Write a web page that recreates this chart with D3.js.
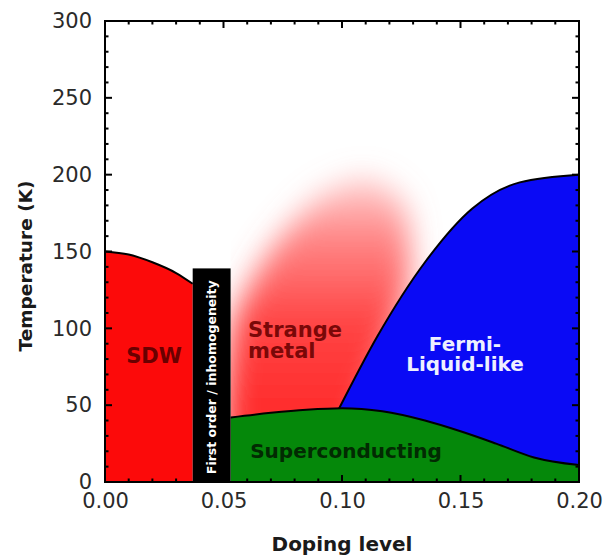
<!DOCTYPE html>
<html>
<head>
<meta charset="utf-8">
<script src="https://cdn.jsdelivr.net/npm/d3@7"></script>
<style>
  html, body { margin: 0; padding: 0; background: #fff; }
  svg { display: block; }
</style>
</head>
<body>
<svg id="chart" width="607" height="556"></svg>
<script>
// Phase boundaries (doping level vs temperature in K)
const sdwDoping = [0.000, 0.010, 0.020, 0.030, 0.037];
const sdwTemp   = [150, 148, 143, 136, 129];

const scDoping = [0.053, 0.070, 0.085, 0.100, 0.117, 0.135, 0.150, 0.165, 0.181, 0.200];
const scTemp   = [42, 45, 47, 48, 46, 40, 33, 25, 16, 11];

const flDoping = [0.0985, 0.115, 0.135, 0.155, 0.175, 0.200];
const flTemp   = [47, 95, 143, 178, 195, 200];

// Strange-metal haze outline
const smDoping = [0.053, 0.053, 0.060, 0.072, 0.090, 0.110, 0.126, 0.128, 0.113, 0.100];
const smTemp   = [20, 95, 125, 155, 185, 198, 180, 130, 60, 20];

// First-order / inhomogeneity strip
const stripDoping = [0.037, 0.053];
const stripTop = 139;

const xTicks = [0.00, 0.05, 0.10, 0.15, 0.20];
const yTicks = [0, 50, 100, 150, 200, 250, 300];

const svg = d3.select("#chart");
const pLeft = 105, pRight = 579, pTop = 21, pBottom = 482;

const x = d3.scaleLinear().domain([0, 0.2]).range([pLeft, pRight]);
const y = d3.scaleLinear().domain([0, 300]).range([pBottom, pTop]);

const pts = (xs, ys) => xs.map((d, i) => [d, ys[i]]);
const smooth = d3.curveMonotoneX;
const line = d3.line().x(d => x(d[0])).y(d => y(d[1])).curve(smooth);
const area = d3.area().x(d => x(d[0])).y0(y(0)).y1(d => y(d[1])).curve(smooth);

const defs = svg.append("defs");
defs.append("clipPath").attr("id", "plotClip")
  .append("rect").attr("x", x(stripDoping[1])).attr("y", pTop)
  .attr("width", pRight - x(stripDoping[1])).attr("height", pBottom - pTop);

const grad = defs.append("linearGradient").attr("id", "smGrad")
  .attr("gradientUnits", "userSpaceOnUse")
  .attr("x1", 0).attr("x2", 0).attr("y1", y(40)).attr("y2", y(200));
grad.append("stop").attr("offset", 0).attr("stop-color", "#ff2a2a");
grad.append("stop").attr("offset", 0.4).attr("stop-color", "#ff4444");
grad.append("stop").attr("offset", 0.75).attr("stop-color", "#ff6a6a").attr("stop-opacity", 0.8);
grad.append("stop").attr("offset", 1).attr("stop-color", "#ff9a9a").attr("stop-opacity", 0.45);

defs.append("filter").attr("id", "haze")
  .attr("x", "-50%").attr("y", "-50%").attr("width", "200%").attr("height", "200%")
  .append("feGaussianBlur").attr("stdDeviation", 15);

// Strange metal haze
svg.append("g").attr("clip-path", "url(#plotClip)")
  .append("path")
  .attr("d", d3.line().x(d => x(d[0])).y(d => y(d[1])).curve(d3.curveCardinalClosed.tension(0.3))(pts(smDoping, smTemp)))
  .attr("fill", "url(#smGrad)")
  .attr("filter", "url(#haze)");

// Fermi-liquid-like region (lower part is covered by the superconducting dome)
const flPts = pts(flDoping, flTemp);
svg.append("path").attr("d", area(flPts)).attr("fill", "#0a0af5");
svg.append("path").attr("d", line(flPts)).attr("fill", "none").attr("stroke", "#000").attr("stroke-width", 2);

// Superconducting dome
const scPts = pts(scDoping, scTemp);
svg.append("path").attr("d", area(scPts)).attr("fill", "#05880a");
svg.append("path").attr("d", line(scPts)).attr("fill", "none").attr("stroke", "#000").attr("stroke-width", 2);

// SDW region
const sdwPts = pts(sdwDoping, sdwTemp);
svg.append("path").attr("d", area(sdwPts)).attr("fill", "#fc0a0a");
svg.append("path").attr("d", line(sdwPts)).attr("fill", "none").attr("stroke", "#000").attr("stroke-width", 2);

// First-order strip
svg.append("rect")
  .attr("x", x(stripDoping[0])).attr("y", y(stripTop))
  .attr("width", x(stripDoping[1]) - x(stripDoping[0]))
  .attr("height", y(0) - y(stripTop))
  .attr("fill", "#000");
const sx = (x(stripDoping[0]) + x(stripDoping[1])) / 2;
const sy = (y(0) + y(stripTop)) / 2;
svg.append("text")
  .attr("transform", `translate(${sx + 4.5},${sy + 2}) rotate(-90)`)
  .attr("text-anchor", "middle")
  .attr("font-family", "DejaVu Sans")
  .attr("font-weight", "bold")
  .attr("font-size", 12.5)
  .attr("fill", "#fff")
  .text("First order / inhomogeneity");

// Region labels
const label = (tx, ty, lines, size, color, anchor, gap) => {
  const t = svg.append("text")
    .attr("font-family", "DejaVu Sans").attr("font-weight", "bold")
    .attr("font-size", size).attr("fill", color).attr("text-anchor", anchor);
  lines.forEach((s, i) => t.append("tspan").attr("x", tx).attr("y", ty + i * gap).text(s));
};
label(154, 363, ["SDW"], 21, "#6a0000", "middle", 0);
label(248, 337, ["Strange", "metal"], 21, "#7a0808", "start", 21);
label(465, 351, ["Fermi-", "Liquid-like"], 20, "#eef0ff", "middle", 20);
label(346, 458, ["Superconducting"], 20, "#022a02", "middle", 0);

// Frame with inward ticks on all sides
const frame = svg.append("g").attr("stroke", "#000").attr("fill", "none");
frame.append("rect").attr("x", pLeft).attr("y", pTop)
  .attr("width", pRight - pLeft).attr("height", pBottom - pTop).attr("stroke-width", 2);

const xMinor = d3.range(0, 0.2001, 0.01);
const yMinor = d3.range(0, 300.1, 10);
xMinor.forEach(v => {
  const major = Math.abs(v / 0.05 - Math.round(v / 0.05)) < 1e-6;
  const len = major ? 7 : 3.5;
  frame.append("line").attr("x1", x(v)).attr("x2", x(v)).attr("y1", pBottom).attr("y2", pBottom - len).attr("stroke-width", 2);
  frame.append("line").attr("x1", x(v)).attr("x2", x(v)).attr("y1", pTop).attr("y2", pTop + len).attr("stroke-width", 2);
});
yMinor.forEach(v => {
  const major = Math.round(v) % 50 === 0;
  const len = major ? 7 : 3.5;
  frame.append("line").attr("y1", y(v)).attr("y2", y(v)).attr("x1", pLeft).attr("x2", pLeft + len).attr("stroke-width", 2);
  frame.append("line").attr("y1", y(v)).attr("y2", y(v)).attr("x1", pRight).attr("x2", pRight - len).attr("stroke-width", 2);
});

// Tick labels via axes (lines hidden; frame draws the ticks)
const xAxis = svg.append("g").attr("transform", `translate(0,${pBottom})`)
  .call(d3.axisBottom(x).tickValues(xTicks).tickFormat(d3.format(".2f")).tickSize(0).tickPadding(11));
const yAxis = svg.append("g").attr("transform", `translate(${pLeft},0)`)
  .call(d3.axisLeft(y).tickValues(yTicks).tickFormat(d3.format("d")).tickSize(0).tickPadding(13));
[xAxis, yAxis].forEach(a => {
  a.select(".domain").remove();
  a.selectAll("text").attr("font-family", "DejaVu Sans").attr("font-size", 21).attr("fill", "#2a2a2a");
});

// Axis titles
svg.append("text").attr("x", (pLeft + pRight) / 2).attr("y", 551)
  .attr("text-anchor", "middle").attr("font-family", "DejaVu Sans").attr("font-weight", "bold")
  .attr("font-size", 20).attr("fill", "#1a1a1a").text("Doping level");
svg.append("text").attr("transform", `translate(32,266) rotate(-90)`)
  .attr("text-anchor", "middle").attr("font-family", "DejaVu Sans").attr("font-weight", "bold")
  .attr("font-size", 18.5).attr("fill", "#1a1a1a").text("Temperature (K)");
</script>
</body>
</html>
